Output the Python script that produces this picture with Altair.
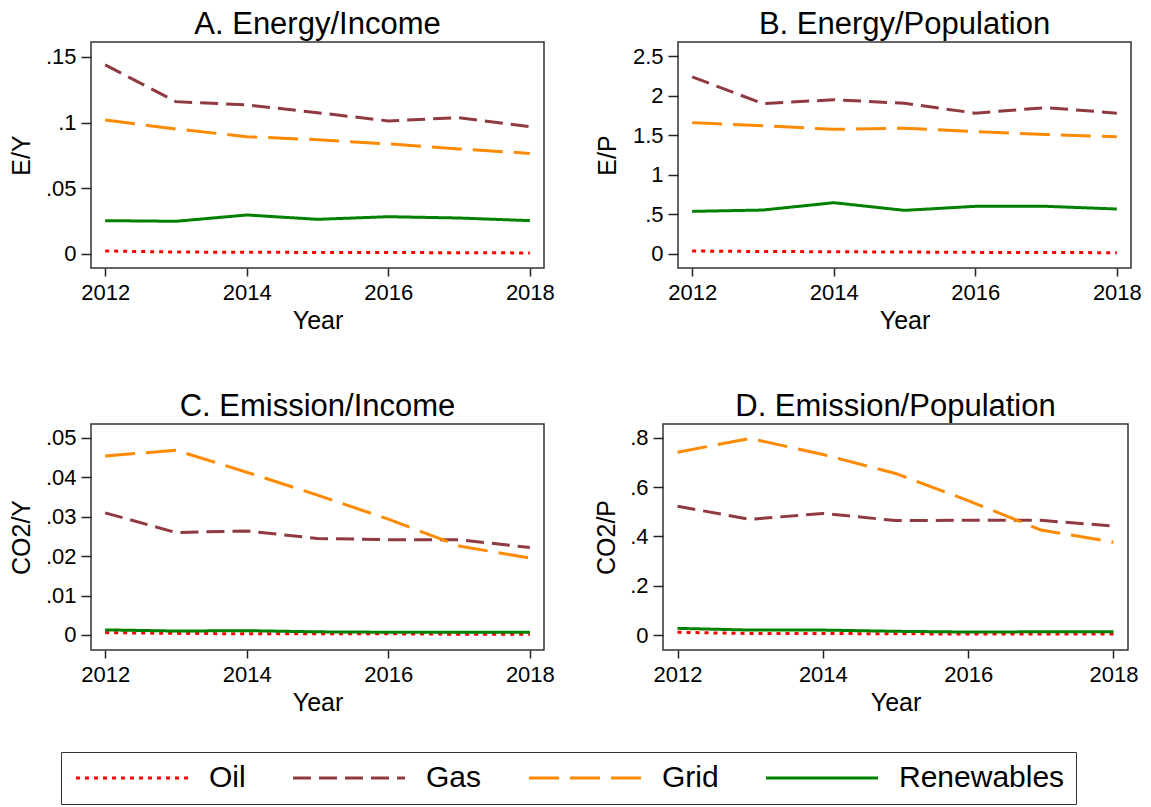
import altair as alt
import pandas as pd

years = [2012, 2013, 2014, 2015, 2016, 2017, 2018]
series = ["Oil", "Gas", "Grid", "Renewables"]
colors = ["#FF0000", "#8F3A41", "#FF8A00", "#008000"]
dashes = [[4, 5], [18, 8], [30, 11], [1, 0]]

# Panel A: Energy/Income
a_oil = [0.0023, 0.0015, 0.0013, 0.0012, 0.0011, 0.0010, 0.0008]
a_gas = [0.144, 0.116, 0.1135, 0.1076, 0.1013, 0.1038, 0.097]
a_grid = [0.102, 0.0952, 0.0893, 0.087, 0.0838, 0.080, 0.0766]
a_ren = [0.0254, 0.0249, 0.0297, 0.0264, 0.0284, 0.0274, 0.0254]

# Panel B: Energy/Population
b_oil = [0.034, 0.028, 0.025, 0.021, 0.017, 0.015, 0.013]
b_gas = [2.24, 1.90, 1.95, 1.905, 1.78, 1.85, 1.78]
b_grid = [1.66, 1.62, 1.575, 1.59, 1.545, 1.51, 1.48]
b_ren = [0.536, 0.553, 0.646, 0.549, 0.60, 0.60, 0.566]

# Panel C: Emission/Income
c_oil = [0.0006, 0.0004, 0.0003, 0.0003, 0.0003, 0.0002, 0.0002]
c_gas = [0.031, 0.026, 0.0264, 0.0245, 0.0242, 0.0242, 0.0222]
c_grid = [0.0454, 0.0469, 0.0413, 0.0355, 0.0294, 0.0226, 0.0195]
c_ren = [0.0013, 0.0010, 0.0011, 0.0008, 0.0007, 0.0007, 0.0007]

# Panel D: Emission/Population
d_oil = [0.011, 0.006, 0.006, 0.005, 0.004, 0.004, 0.004]
d_gas = [0.522, 0.469, 0.493, 0.464, 0.465, 0.465, 0.442]
d_grid = [0.741, 0.797, 0.732, 0.655, 0.545, 0.426, 0.376]
d_ren = [0.027, 0.020, 0.020, 0.015, 0.012, 0.013, 0.013]

panels = [
    ("A. Energy/Income", "E/Y", [a_oil, a_gas, a_grid, a_ren], [-0.01066, 0.1614], [0, 0.05, 0.1, 0.15], -70),
    ("B. Energy/Population", "E/P", [b_oil, b_gas, b_grid, b_ren], [-0.181, 2.681], [0, 0.5, 1, 1.5, 2, 2.5], -71),
    ("C. Emission/Income", "CO2/Y", [c_oil, c_gas, c_grid, c_ren], [-0.00381, 0.05355], [0, 0.01, 0.02, 0.03, 0.04, 0.05], -70),
    ("D. Emission/Population", "CO2/P", [d_oil, d_gas, d_grid, d_ren], [-0.0608, 0.8555], [0, 0.2, 0.4, 0.6, 0.8], -57),
]
widths = [453, 453, 453, 465]
HEIGHT = 226
FONT = "Liberation Sans"

# legend line sample: custom path scaled by sqrt(size)/2 -> 112px long line
legend = alt.Legend(
    orient="none", legendX=-30, legendY=710, direction="horizontal", columns=4,
    symbolType="M-5,0H5", symbolSize=502, symbolStrokeWidth=3, symbolOffset=45,
    symbolFillColor="transparent",
    labelFontSize=30, labelFont=FONT, labelColor="#000", labelOffset=62, labelLimit=0,
    columnPadding=40, padding=11, strokeColor="#333", title=None,
)


def make_panel(title, ytitle, vals, ydom, yticks, title_x, width):
    rows = []
    for s, v in zip(series, vals):
        for y, val in zip(years, v):
            rows.append({"Year": y, "series": s, "value": val})
    df = pd.DataFrame(rows)
    return alt.Chart(df).mark_line(strokeWidth=3, strokeCap="butt").encode(
        x=alt.X("Year:Q", scale=alt.Scale(domain=[2011.8, 2018.2], nice=False, zero=False),
                axis=alt.Axis(values=[2012, 2014, 2016, 2018], format="d", title="Year",
                              titleY=60, titleBaseline="alphabetic")),
        y=alt.Y("value:Q", scale=alt.Scale(domain=ydom, nice=False, zero=False),
                axis=alt.Axis(values=yticks, title=ytitle, titleX=title_x, titleBaseline="middle",
                              labelExpr="replace(toString(datum.value), '0.', '.')")),
        color=alt.Color("series:N", scale=alt.Scale(domain=series, range=colors), legend=legend),
        strokeDash=alt.StrokeDash("series:N", scale=alt.Scale(domain=series, range=dashes), legend=legend),
    ).properties(
        width=width, height=HEIGHT,
        title=alt.TitleParams(title, fontSize=31, font=FONT, fontWeight="normal", color="#000",
                              baseline="alphabetic", offset=-23, frame="group", anchor="middle"),
    )


charts = [make_panel(p[0], p[1], p[2], p[3], p[4], p[5], w) for p, w in zip(panels, widths)]

row1 = alt.hconcat(charts[0], charts[1], spacing=38)
row2 = alt.hconcat(charts[2], charts[3], spacing=37)
chart = alt.vconcat(row1, row2, spacing=56).resolve_scale(
    color="shared", strokeDash="shared"
).properties(
    padding={"left": 0, "top": 0, "right": 0, "bottom": 0}
).configure(
    font=FONT, background="white"
).configure_view(
    stroke="#333", strokeWidth=1.5
).configure_axis(
    grid=False, domain=False, tickColor="#222", tickWidth=1.5, tickSize=9,
    labelFont=FONT, labelFontSize=22, labelColor="#000", labelPadding=5,
    titleFont=FONT, titleFontSize=25, titleFontWeight="normal", titleColor="#000",
).configure_axisX(
    tickSize=8, labelPadding=6
).configure_axisY(
    labelAngle=0, tickSize=10, labelPadding=5
)

chart.save("out.html", embed_options={"renderer": "svg", "actions": False})
